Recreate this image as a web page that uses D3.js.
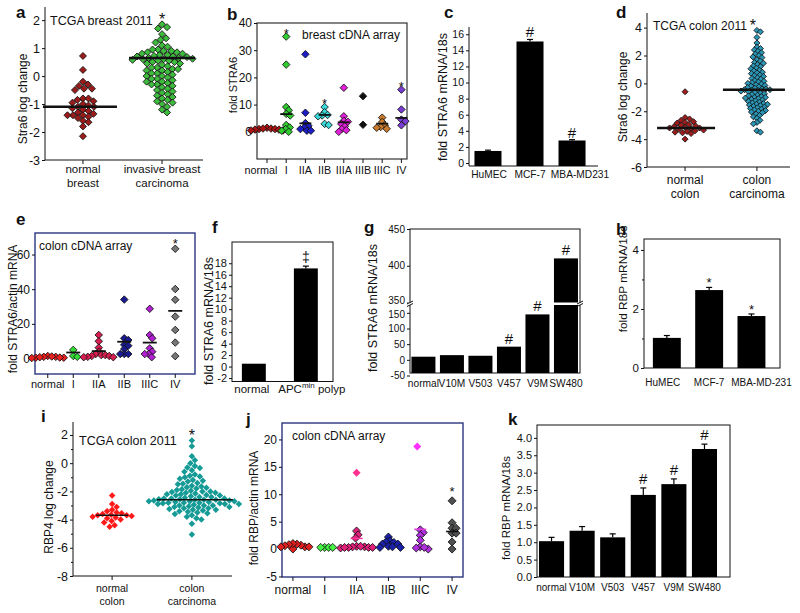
<!DOCTYPE html>
<html><head><meta charset="utf-8">
<script src="https://cdn.jsdelivr.net/npm/d3@7"></script>
<style>body{margin:0;background:#fff}svg{display:block;background:#fff}text{font-family:"Liberation Sans",Arial,sans-serif;fill:#111}</style>
</head><body><script>
// ================= DATA =================
// a: TCGA breast 2011 (Stra6 log change)
const aCats=["normal breast","invasive breast carcinoma"];
const aNormal=[0.72,0.22,-0.2,-0.3,-0.35,-0.45,-0.45,-0.5,-0.8,-0.8,-0.85,-0.9,-0.95,-1.0,-1.05,-1.1,-1.1,-1.15,-1.2,-1.25,-1.3,-1.35,-1.4,-1.4,-1.4,-1.45,-1.5,-1.6,-1.65,-1.8,-2.15];
const aInvasive=[1.85,1.75,1.7,1.5,1.35,1.3,1.2,1.1,1.05,0.95,0.95,0.9,0.9,0.85,0.85,0.8,0.8,0.75,0.75,0.72,0.7,0.7,0.68,0.65,0.65,0.62,0.6,0.6,0.58,0.55,0.55,0.5,0.5,0.45,0.45,0.4,0.35,0.3,0.3,0.25,0.25,0.2,0.2,0.15,0.1,0.1,0.05,0.0,0.0,-0.05,-0.1,-0.1,-0.15,-0.2,-0.2,-0.25,-0.3,-0.3,-0.35,-0.4,-0.45,-0.5,-0.55,-0.6,-0.65,-0.7,-0.75,-0.8,-0.85,-0.9,-0.95,-1.0,-1.1,-1.2,-1.3];
const aMeans=[-1.1,0.65];
const aTicks=[2,1,0,-1,-2,-3];

// b: breast cDNA array (fold STRA6)
const bCats=["normal","I","IIA","IIB","IIIA","IIIB","IIIC","IV"];
const bNormal=[1.5,1.2,1.0,1.0,0.8,0.8,0.5,0.5,1.2];
const bI=[35,24.7,9.1,7.9,6.6,6.0,2.5,1.6,1.0,0.4,0];
const bIIA=[28.5,7,3.2,2.2,1.6,1,0.4,0.4];
const bIIB=[9.1,7.2,6.2,6,5.7,2.9,2.5];
const bIIIA=[16.2,5.7,4.1,3.7,2.9,2,1,0.6,0];
const bIIIB=[13.1,2.6];
const bIIIC=[5.2,3.6,2.4,1.8,1.5,1.1];
const bIV=[15.5,8.2,4.5,3.9,2.4];
const bMeans=[null,6.5,3.1,6.2,3.5,null,3,5.1];
const bStars=["I","IIB","IV"];
const bTicks=[0,10,20,30,40];

// c: fold STRA6 mRNA/18s
const cCats=["HuMEC","MCF-7","MBA-MD231"];
const cVals=[1.5,15.1,2.8];
const cErr=[0.1,0.25,0.1];
const cMarks=["","#","#"];
const cTicks=[0,2,4,6,8,10,12,14,16];

// d: TCGA colon 2011 (Stra6 log change)
const dCats=["normal colon","colon carcinoma"];
const dNormal=[-0.6,-2.45,-2.55,-2.65,-2.75,-2.8,-2.85,-2.95,-3.0,-3.05,-3.1,-3.15,-3.2,-3.2,-3.25,-3.3,-3.35,-3.4,-3.45,-3.5,-3.55,-3.6,-4.0];
const dCarcinoma=[3.8,3.7,3.3,2.9,2.6,2.5,2.4,2.3,2.2,2.1,2.0,1.9,1.85,1.7,1.6,1.5,1.45,1.35,1.25,1.2,1.1,1.05,0.95,0.9,0.8,0.75,0.7,0.6,0.55,0.5,0.4,0.35,0.3,0.2,0.15,0.1,0.05,0.0,-0.05,-0.1,-0.15,-0.2,-0.25,-0.3,-0.35,-0.4,-0.4,-0.45,-0.45,-0.5,-0.5,-0.55,-0.6,-0.65,-0.7,-0.75,-0.8,-0.85,-0.9,-0.95,-1.0,-1.0,-1.05,-1.1,-1.15,-1.2,-1.25,-1.3,-1.35,-1.4,-1.45,-1.5,-1.5,-1.55,-1.6,-1.65,-1.7,-1.75,-1.8,-1.85,-1.9,-1.95,-2.0,-2.05,-2.1,-2.2,-2.3,-2.4,-2.5,-2.65,-2.8,-2.9,-3.4,-3.5];
const dMeans=[-3.2,-0.45];
const dTicks=[4,2,0,-2,-4,-6];

// e: colon cDNA array (fold STRA6/actin mRNA)
const eCats=["normal","I","IIA","IIB","IIIC","IV"];
const eNormal=[1.5,1,1,0.5,0.5,0.8,1.2,0.3,0.6];
const eI=[5,1.5,1];
const eIIA=[13.6,10,6.3,4,2.6,2,2,1.5,1.5,1,0.8,0.8];
const eIIB=[34,11.7,10.7,7.9,7.4,5.5,2.6,2.6,2.6];
const eIIIC=[28.7,13.6,11.7,5.9,4,2.6,2.6,0.8];
const eIV=[63.3,40.1,33.9,24.2,16.5,9.2,1.4];
const eMeans=[null,3.5,4.3,9.7,9.2,27.5];
const eTicks=[0,20,40,60];

// f: fold STRA6 mRNA/18s
const fCats=["normal","APCmin polyp"];
const fVals=[0.5,17.1];
const fErr=[0,0.4];
const fTicks=[-2,0,2,4,6,8,10,12,14,16,18];

// g: fold STRA6 mRNA/18s (broken axis)
const gCats=["normal","V10M","V503","V457","V9M","SW480"];
const gVals=[10,15,13,42,145,410];
const gMarks=["","","","#","#","#"];
const gTicksLow=[-50,0,50,100,150];
const gTicksHigh=[350,400,450];

// h: fold RBP mRNA/18s
const hCats=["HuMEC","MCF-7","MBA-MD-231"];
const hVals=[1.02,2.64,1.76];
const hErr=[0.08,0.09,0.07];
const hMarks=["","*","*"];
const hTicks=[0,2,4];

// i: TCGA colon 2011 (RBP4 log change)
const iCats=["normal colon","colon carcinoma"];
const iNormal=[-2.3,-2.9,-3.1,-3.3,-3.4,-3.5,-3.55,-3.6,-3.65,-3.7,-3.7,-3.75,-3.8,-3.85,-3.9,-4.0,-4.1,-4.2,-4.4,-4.5];
const iCarcinoma=[1.6,1.2,0.5,0.2,0.0,-0.2,-0.3,-0.35,-0.5,-0.6,-0.8,-0.9,-0.95,-1.0,-1.1,-1.2,-1.25,-1.3,-1.4,-1.45,-1.5,-1.6,-1.65,-1.7,-1.75,-1.8,-1.85,-1.9,-1.95,-2.0,-2.0,-2.05,-2.1,-2.1,-2.15,-2.2,-2.2,-2.25,-2.3,-2.3,-2.35,-2.4,-2.4,-2.45,-2.5,-2.5,-2.5,-2.55,-2.55,-2.6,-2.6,-2.6,-2.65,-2.65,-2.7,-2.7,-2.7,-2.75,-2.75,-2.8,-2.8,-2.8,-2.85,-2.85,-2.9,-2.9,-2.9,-2.95,-3.0,-3.0,-3.0,-3.05,-3.1,-3.1,-3.15,-3.2,-3.2,-3.25,-3.3,-3.3,-3.35,-3.4,-3.45,-3.5,-3.55,-3.6,-3.7,-3.8,-3.9,-4.0,-4.3,-5.05];
const iMeans=[-3.7,-2.6];
const iTicks=[2,0,-2,-4,-6,-8];

// j: colon cDNA array (fold RBP/actin mRNA)
const jCats=["normal","I","IIA","IIB","IIIC","IV"];
const jNormal=[0,0.4,0.7,0.9,1.0,0.8,0.6,0.4,0.4];
const jI=[0.3,0.3,0.3,0.3];
const jIIA=[3.3,2.6,2.0,0.5,0.4,0.4,0.3,0.3,0.2,0.5,0.3,0.3];
const jIIAHigh=[13.9];
const jIIB=[2.2,1.5,1.3,1.2,0.9,0.9,0.5,0.4,0.3,0.3];
const jIIIC=[3.5,3.0,2.5,1.6,0.4,0.2,0.0,0.3];
const jIIICHigh=[18.7];
const jIV=[8.8,4.8,3.8,3.8,2.9,2.9,1.3,0];
const jMeans=[null,null,1.95,null,3.6,3.2];
const jTicks=[-5,0,5,10,15,20];

// k: fold RBP mRNA/18s
const kCats=["normal","V10M","V503","V457","V9M","SW480"];
const kVals=[1.03,1.33,1.14,2.36,2.67,3.68];
const kErr=[0.11,0.12,0.1,0.2,0.15,0.14];
const kMarks=["","","","#","#","#"];
const kTicks=[0,0.5,1,1.5,2,2.5,3,3.5,4];

// ================= HELPERS =================
const FONT='"Liberation Sans",Arial,sans-serif';
const INK="#111";
const svg=d3.select("body").append("svg").attr("width",800).attr("height",613);

function ln(x1,y1,x2,y2,c,w){svg.append("line").attr("x1",x1).attr("y1",y1).attr("x2",x2).attr("y2",y2).attr("stroke",c||INK).attr("stroke-width",w||1);}
function box(x0,y0,x1,y1,c,w){svg.append("rect").attr("x",x0).attr("y",y0).attr("width",x1-x0).attr("height",y1-y0).attr("fill","none").attr("stroke",c||INK).attr("stroke-width",w||1);}
function txt(x,y,s,size,o){o=o||{};const t=svg.append("text").attr("x",x).attr("y",y).attr("font-size",size).text(s);
  if(o.anchor)t.attr("text-anchor",o.anchor); if(o.bold)t.attr("font-weight","bold"); return t;}
function vlabel(x,y,s,size){svg.append("text").attr("transform",`translate(${x},${y}) rotate(-90)`).attr("text-anchor","middle").attr("font-size",size).text(s);}
function lines(cx,y0,arr,size,lh){arr.forEach((s,i)=>txt(cx,y0+i*lh,s,size,{anchor:"middle"}));}
function yAxis(scale,x,ticks,size,fmt,len){
  const ax=d3.axisLeft(scale).tickValues(ticks).tickSize(len==null?3:len).tickSizeOuter(0).tickPadding(2).tickFormat(fmt||(d=>String(d)));
  const g=svg.append("g").attr("transform",`translate(${x},0)`).call(ax);
  g.attr("font-family",FONT).attr("font-size",size);
  g.select(".domain").remove();
  g.selectAll(".tick line").attr("stroke",INK);
  g.selectAll(".tick text").attr("fill",INK);
  return g;
}
function swarm(vals,ys,cx,d){
  const pts=vals.map(v=>({v,y:ys(v)}));
  const order=pts.slice().sort((a,b)=>a.y-b.y);
  const placed=[];
  for(const p of order){
    p.dx=0;
    for(let k=0;k<2000;k++){
      const c=k===0?0:(k%2?1:-1)*Math.ceil(k/2)*0.5;
      if(placed.every(q=>(q.dx-c)*(q.dx-c)+(q.y-p.y)*(q.y-p.y)>=d*d)){p.dx=c;break;}
    }
    placed.push(p);
  }
  pts.forEach(p=>p.x=cx+p.dx);
  return pts;
}
function diamonds(pts,fill,stroke,w){
  const s=w/Math.SQRT2;
  svg.append("g").selectAll("path").data(pts).join("path")
    .attr("d",d3.symbol(d3.symbolSquare,s*s)())
    .attr("transform",p=>`translate(${p.x},${p.y}) rotate(45)`)
    .attr("fill",fill).attr("stroke",stroke||"none").attr("stroke-width",stroke?0.8:0);
}
function meanLine(cx,y,hw,c,w){ln(cx-hw,y,cx+hw,y,c||INK,w||2);}
function bars(cats,vals,errs,x,y,yb){
  svg.append("g").selectAll("rect").data(cats).join("rect")
    .attr("x",c=>x(c)).attr("width",x.bandwidth())
    .attr("y",(c,i)=>y(vals[i])).attr("height",(c,i)=>yb-y(vals[i])).attr("fill","#000");
  if(errs) cats.forEach((c,i)=>{ if(!errs[i]) return; const cx=x(c)+x.bandwidth()/2, t=y(vals[i]+errs[i]);
    ln(cx,y(vals[i]),cx,t,"#000",1.2); ln(cx-3,t,cx+3,t,"#000",1.2);});
}

// ================= PANEL a =================
{
  const y=d3.scaleLinear().domain([-3,2.47]).range([160,7]);
  const x=d3.scalePoint().domain(aCats).range([45,200]).padding(0.48);
  ln(45,7,45,160); ln(45,160,203,160);
  yAxis(y,45,aTicks,12.5);
  aCats.forEach(c=>ln(x(c),160,x(c),164));
  diamonds(swarm(aNormal,y,x(aCats[0]),5.5),"#9b1b1b",INK,7);
  diamonds(swarm(aInvasive,y,x(aCats[1]),5.5),"#3dbb3d",INK,7);
  meanLine(x(aCats[0])-3,y(aMeans[0]),37,INK,2.5);
  meanLine(x(aCats[1]),y(aMeans[1]),33,INK,2.5);
  lines(x(aCats[0]),173,["normal","breast"],11.5,14);
  lines(x(aCats[1]),173,["invasive breast","carcinoma"],11.5,14);
  txt(50,25,"TCGA breast 2011",12.5);
  txt(x(aCats[1]),25,"*",16,{anchor:"middle"});
  vlabel(27,99,"Stra6 log change",12);
  txt(16,18,"a",17,{bold:true});
}
// ================= PANEL b =================
{
  const y=d3.scaleLinear().domain([-10,40]).range([159,23]);
  const x=d3.scalePoint().domain(bCats).range([257.4,411]).padding(0.5);
  box(257,23,407,159,"#333",1.2);
  yAxis(y,257,bTicks,12);
  bCats.forEach(c=>ln(x(c),159,x(c),163));
  const series=[bNormal,bI,bIIA,bIIB,bIIIA,bIIIB,bIIIC,bIV];
  const cols=["#a81414","#2fcc2f","#1e1ec8","#3ad8d8","#e020d8","#111","#c97a2c","#7b3cd6"];
  series.forEach((v,i)=>diamonds(swarm(v,y,x(bCats[i]),4),cols[i],INK,7.5));
  bMeans.forEach((m,i)=>{if(m!=null)meanLine(x(bCats[i]),y(m),6,INK,1.8);});
  const bLabelDx=[-6,0,0,0,0,0,0,0];
  bCats.forEach((c,i)=>txt(x(c)+bLabelDx[i],174,c,10.8,{anchor:"middle"}));
  bStars.forEach(c=>{const i=bCats.indexOf(c);txt(x(c),y(d3.max(series[i]))+1,"*",13,{anchor:"middle"});});
  txt(302,39,"breast cDNA array",12);
  vlabel(237,85,"fold STRA6",11);
  txt(227,20,"b",17,{bold:true});
}
// ================= PANEL c =================
{
  const y=d3.scaleLinear().domain([-0.37,16.9]).range([166,27]);
  const x=d3.scaleBand().domain(cCats).range([469,591]).paddingInner(0.357).paddingOuter(0.13);
  ln(469,27,469,166); ln(469,166,598,166);
  yAxis(y,469,cTicks,10.5);
  bars(cCats,cVals,cErr,x,y,166);
  cCats.forEach((c,i)=>{ if(cMarks[i]) txt(x(c)+x.bandwidth()/2,y(cVals[i]+cErr[i])-2,cMarks[i],15,{anchor:"middle"});});
  const cLabelDx=[1,0,8];
  cCats.forEach((c,i)=>txt(x(c)+x.bandwidth()/2+cLabelDx[i],178,c,10.2,{anchor:"middle"}));
  vlabel(447,97,"fold STRA6 mRNA/18s",12.5);
  txt(444,18,"c",17,{bold:true});
}
// ================= PANEL d =================
{
  const y=d3.scaleLinear().domain([-6,5.05]).range([167,13]);
  const x=d3.scalePoint().domain(dCats).range([647,795]).padding(0.53);
  ln(647,13,647,167); ln(647,167,790,167);
  yAxis(y,647,dTicks,12.5);
  dCats.forEach(c=>ln(x(c),167,x(c),171));
  diamonds(swarm(dNormal,y,x(dCats[0]),4.5),"#a01c1c",INK,6);
  diamonds(swarm(dCarcinoma,y,x(dCats[1]),3.6),"#2b95b5",INK,6);
  meanLine(x(dCats[0])+1,y(dMeans[0]),29,INK,2.5);
  meanLine(x(dCats[1])-3,y(dMeans[1]),31,INK,2.5);
  lines(x(dCats[0]),184,["normal","colon"],12,14);
  lines(x(dCats[1]),184,["colon","carcinoma"],12,14);
  txt(653,30,"TCGA colon 2011",12);
  txt(x(dCats[1])-4,31,"*",16,{anchor:"middle"});
  vlabel(627,97,"Stra6 log change",12);
  txt(616,18,"d",17,{bold:true});
}
// ================= PANEL e =================
{
  const y=d3.scaleLinear().domain([-8.9,72.4]).range([374,233]);
  const x=d3.scalePoint().domain(eCats).range([35,188]).padding(0.5);
  box(35,233,195,374,"#2a3580",1.4);
  yAxis(y,35,eTicks,12);
  eCats.forEach(c=>ln(x(c),374,x(c),378));
  const series=[eNormal,eI,eIIA,eIIB,eIIIC,eIV];
  const cols=["#e82020","#33dd33","#d81e50","#1a1a90","#b020d0","#777"];
  series.forEach((v,i)=>diamonds(swarm(v,y,x(eCats[i]),4),cols[i],INK,7.5));
  eMeans.forEach((m,i)=>{if(m!=null)meanLine(x(eCats[i]),y(m),7,INK,1.8);});
  eCats.forEach(c=>txt(x(c),388,c,11,{anchor:"middle"}));
  txt(x("IV"),y(d3.max(eIV))-1,"*",13,{anchor:"middle"});
  txt(39,250,"colon cDNA array",12);
  vlabel(17,309,"fold STRA6/actin mRNA",12);
  txt(16,225,"e",17,{bold:true});
}
// ================= PANEL f =================
{
  const y=d3.scaleLinear().domain([-2.6,21.7]).range([381.5,242]);
  const x=d3.scaleBand().domain(fCats).range([232,327.7]).paddingInner(0.54).paddingOuter(0.19);
  box(232,242,333,381.5,INK,1);
  yAxis(y,232,fTicks,11);
  bars(fCats,fVals,fErr,x,y,381.5);
  txt(x(fCats[1])+x.bandwidth()/2,y(fVals[1]+fErr[1])-4,"\u2021",14,{anchor:"middle"});
  txt(x(fCats[0])+x.bandwidth()/2-2,393,"normal",11.5,{anchor:"middle"});
  const t=svg.append("text").attr("x",x(fCats[1])+x.bandwidth()/2+6).attr("y",393).attr("text-anchor","middle").attr("font-size",11.5);
  t.append("tspan").text("APC"); t.append("tspan").attr("font-size",8).attr("dy",-5).text("min");
  t.append("tspan").attr("dy",5).text(" polyp");
  vlabel(213,321,"fold STRA6 mRNA/18s",12.5);
  txt(212,233,"f",17,{bold:true});
}
// ================= PANEL g =================
{
  const yLow=d3.scaleLinear().domain([-42,175]).range([373,305]);
  const yHigh=d3.scaleLinear().domain([350,450]).range([302.5,229]);
  const x=d3.scaleBand().domain(gCats).range([410,579.4]).paddingInner(0.158).paddingOuter(0.05);
  box(410,229,580,373,INK,1);
  const gl=yAxis(yLow,410,gTicksLow,10);
  const gh=yAxis(yHigh,410,gTicksHigh,10);
  gh.selectAll(".tick text").filter(d=>d===350).attr("dy","0.1em");
  gl.selectAll(".tick text").filter(d=>d===150).attr("dy","0.45em");
  gCats.forEach((c,i)=>{
    const v=gVals[i], bx=x(c), bw=x.bandwidth();
    if(v<=175){ svg.append("rect").attr("x",bx).attr("width",bw).attr("y",yLow(v)).attr("height",373-yLow(v)).attr("fill","#000"); }
    else { svg.append("rect").attr("x",bx).attr("width",bw).attr("y",yLow(175)).attr("height",373-yLow(175)).attr("fill","#000");
           svg.append("rect").attr("x",bx).attr("width",bw).attr("y",yHigh(v)).attr("height",yHigh(350)-yHigh(v)).attr("fill","#000"); }
    if(gMarks[i]) txt(bx+bw/2,(v<=175?yLow(v):yHigh(v))-3,gMarks[i],15,{anchor:"middle"});
  });
  [410,580].forEach(bx=>{
    svg.append("rect").attr("x",bx-2).attr("y",302.5).attr("width",4).attr("height",2.5).attr("fill","#fff");
    ln(bx-3,304,bx+3,301,INK,1); ln(bx-3,306.5,bx+3,303.5,INK,1);
  });
  gCats.forEach(c=>txt(x(c)+x.bandwidth()/2,387,c,10.2,{anchor:"middle"}));
  vlabel(377,308,"fold STRA6 mRNA/18s",12.5);
  txt(364,233,"g",17,{bold:true});
}
// ================= PANEL h =================
{
  const y=d3.scaleLinear().domain([0,4.37]).range([368,239]);
  const x=d3.scaleBand().domain(hCats).range([644,774.3]).paddingInner(0.34).paddingOuter(0.21);
  box(644,239,780,368,INK,1);
  yAxis(y,644,hTicks,11.5);
  yAxis(y,644,[1,3],11.5,()=>"",2);
  bars(hCats,hVals,hErr,x,y,368);
  hCats.forEach((c,i)=>{if(hMarks[i]) txt(x(c)+x.bandwidth()/2,y(hVals[i]+hErr[i]),hMarks[i],13,{anchor:"middle"});});
  const hLabelDx=[-4,0,10];
  hCats.forEach((c,i)=>txt(x(c)+x.bandwidth()/2+hLabelDx[i],386,c,10,{anchor:"middle"}));
  vlabel(627,279,"fold RBP mRNA/18s",11.8);
  txt(616,235,"h",17,{bold:true});
}
// ================= PANEL i =================
{
  const y=d3.scaleLinear().domain([-8,2.92]).range([576,422]);
  const x=d3.scalePoint().domain(iCats).range([73,231]).padding(0.49);
  ln(73,422,73,576); ln(73,576,232,576);
  yAxis(y,73,iTicks,12.5);
  yAxis(y,73,[1,-1,-3,-5,-7],12,()=>"",2);
  iCats.forEach(c=>ln(x(c),576,x(c),580));
  diamonds(swarm(iNormal,y,x(iCats[0]),5),"#ff1a1a",null,6.5);
  diamonds(swarm(iCarcinoma,y,x(iCats[1]),5),"#169a96",null,6.5);
  meanLine(x(iCats[0]),y(iMeans[0]),16,INK,1.5);
  meanLine(x(iCats[1])+3,y(iMeans[1]),38,INK,1.5);
  lines(x(iCats[0]),592,["normal","colon"],10.5,13);
  lines(x(iCats[1]),592,["colon","carcinoma"],10.5,13);
  txt(79,445,"TCGA colon 2011",12.5);
  txt(x(iCats[1]),441,"*",16,{anchor:"middle"});
  vlabel(53,507,"RBP4 log change",12);
  txt(41,422,"i",17,{bold:true});
}
// ================= PANEL j =================
{
  const y=d3.scaleLinear().domain([-5.1,23]).range([577,423]);
  const x=d3.scalePoint().domain(jCats).range([277,468]).padding(0.5);
  box(282,423,463,577,"#2a3580",1.4);
  yAxis(y,282,jTicks,12);
  jCats.forEach(c=>ln(x(c),577,x(c),581));
  const series=[jNormal,jI,jIIA,jIIB,jIIIC,jIV];
  const cols=["#e02020","#44f044","#e0207a","#1a20a8","#b030e0","#505050"];
  series.forEach((v,i)=>diamonds(swarm(v,y,x(jCats[i]),4),cols[i],INK,8));
  diamonds(jIIAHigh.map(v=>({x:x("IIA"),y:y(v)})),"#ff3090",null,8);
  diamonds(jIIICHigh.map(v=>({x:x("IIIC")-3,y:y(v)})),"#ff30ff",null,8);
  const mcols=[INK,INK,"#ff3399",INK,"#e040e0",INK];
  jMeans.forEach((m,i)=>{if(m!=null)meanLine(x(jCats[i]),y(m),6,mcols[i],1.6);});
  jCats.forEach(c=>txt(x(c),594,c,12,{anchor:"middle"}));
  txt(x("IV"),y(d3.max(jIV))-5,"*",13,{anchor:"middle"});
  txt(292,440,"colon cDNA array",12);
  vlabel(258,508,"fold RBP/actin mRNA",12);
  txt(246,425,"j",17,{bold:true});
}
// ================= PANEL k =================
{
  const y=d3.scaleLinear().domain([0,4.37]).range([577,425]);
  const x=d3.scaleBand().domain(kCats).range([537,719]).paddingInner(0.18).paddingOuter(0.065);
  box(537,425,730,577,INK,1);
  yAxis(y,537,kTicks,11,d3.format(".1f"));
  bars(kCats,kVals,kErr,x,y,577);
  kCats.forEach((c,i)=>{if(kMarks[i]) txt(x(c)+x.bandwidth()/2,y(kVals[i]+kErr[i])-4,kMarks[i],15,{anchor:"middle"});});
  kCats.forEach(c=>txt(x(c)+x.bandwidth()/2,591,c,10,{anchor:"middle"}));
  vlabel(510,508,"fold RBP mRNA/18s",11.5);
  txt(508,425,"k",17,{bold:true});
}
</script></body></html>
